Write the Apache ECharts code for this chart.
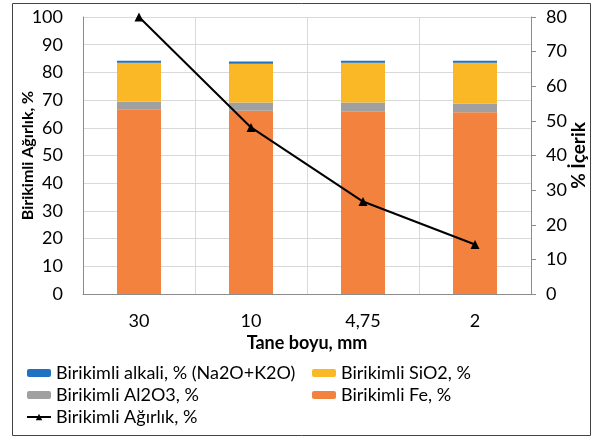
<!DOCTYPE html>
<html>
<head>
<meta charset="utf-8">
<script src="https://cdn.jsdelivr.net/npm/echarts@6/dist/echarts.min.js"></script>
<style>html,body{margin:0;padding:0;background:#fff}#c{width:593px;height:438px}</style>
</head>
<body>
<div id="c"></div>
<script>
var categories = ['30', '10', '4,75', '2'];
var fe = [66.7, 66.2, 66.0, 65.6];
var al2o3 = [2.7, 2.9, 3.1, 3.2];
var sio2 = [14.1, 14.0, 14.4, 14.7];
var alkali = [0.7, 0.8, 0.7, 0.7];
var agirlik = [80, 48.1, 26.7, 14.3];
var leftTicks = [0, 100, 10];
var rightTicks = [0, 80, 10];

var FONT = 'Lato';
var chart = echarts.init(document.getElementById('c'), null, {renderer: 'canvas'});
var names = {
  alk: 'Birikimli alkali, % (Na2O+K2O)',
  si: 'Birikimli SiO2, %',
  al: 'Birikimli Al2O3, %',
  fe: 'Birikimli Fe, %',
  ag: 'Birikimli Ağırlık, %'
};
var legendText = {fontFamily: FONT, fontSize: 18, color: '#000'};
chart.setOption({
  animation: false,
  textStyle: {fontFamily: FONT},
  graphic: [{
    type: 'rect', shape: {x: 12.5, y: 3.5, width: 578, height: 432},
    style: {fill: 'none', stroke: '#444', lineWidth: 1}, z: -1
  }],
  grid: {left: 83, right: 62, top: 17, bottom: 144, containLabel: false, outerBoundsMode: 'none'},
  legend: [{
    orient: 'vertical', left: 26, top: 364, padding: 0, itemWidth: 24, itemHeight: 8, itemGap: 4,
    textStyle: legendText, data: [names.alk, names.al, names.ag]
  }, {
    orient: 'vertical', left: 312, top: 364, padding: 0, itemWidth: 24, itemHeight: 8, itemGap: 4,
    textStyle: legendText, data: [names.si, names.fe]
  }],
  xAxis: {
    type: 'category', data: categories,
    name: 'Tane boyu, mm', nameLocation: 'middle', nameGap: 40, nameMoveOverlap: false,
    nameTextStyle: {fontFamily: FONT, fontSize: 18, fontWeight: 'bold', color: '#000'},
    axisLine: {lineStyle: {color: '#8c8c8c'}},
    axisTick: {show: false},
    axisLabel: {fontSize: 18, color: '#000', margin: 18, fontFamily: FONT},
    splitLine: {show: true, lineStyle: {color: '#d9d9d9'}}
  },
  yAxis: [{
    type: 'value', min: leftTicks[0], max: leftTicks[1], interval: leftTicks[2],
    name: 'Birikimli Ağırlık, %', nameLocation: 'middle', nameGap: 47, nameMoveOverlap: false,
    nameTextStyle: {fontFamily: FONT, fontSize: 16, fontWeight: 'bold', color: '#000'},
    axisLine: {show: true, lineStyle: {color: '#8c8c8c'}},
    axisTick: {show: false},
    axisLabel: {fontSize: 18, color: '#000', margin: 20, fontFamily: FONT},
    splitLine: {lineStyle: {color: '#d9d9d9'}}
  }, {
    type: 'value', min: rightTicks[0], max: rightTicks[1], interval: rightTicks[2],
    position: 'right',
    name: '% İçerik', nameLocation: 'middle', nameGap: 38, nameRotate: 90, nameMoveOverlap: false,
    nameTextStyle: {fontFamily: FONT, fontSize: 19, fontWeight: 'bold', color: '#000'},
    axisLine: {show: true, lineStyle: {color: '#8c8c8c'}},
    axisTick: {show: true, length: 5, lineStyle: {color: '#8c8c8c'}},
    axisLabel: {fontSize: 18, color: '#000', margin: 15, fontFamily: FONT},
    splitLine: {show: false}
  }],
  series: [
    {name: names.fe, type: 'bar', stack: 's', data: fe, barWidth: 44, itemStyle: {color: '#F3823E'}},
    {name: names.al, type: 'bar', stack: 's', data: al2o3, itemStyle: {color: '#A0A0A0'}},
    {name: names.si, type: 'bar', stack: 's', data: sio2, itemStyle: {color: '#FBB826'}},
    {name: names.alk, type: 'bar', stack: 's', data: alkali, itemStyle: {color: '#1F72C2'}},
    {name: names.ag, type: 'line', yAxisIndex: 1, data: agirlik, symbol: 'triangle', symbolSize: 9,
     lineStyle: {color: '#000', width: 2}, itemStyle: {color: '#000'}, z: 10}
  ]
});
</script>
</body>
</html>
